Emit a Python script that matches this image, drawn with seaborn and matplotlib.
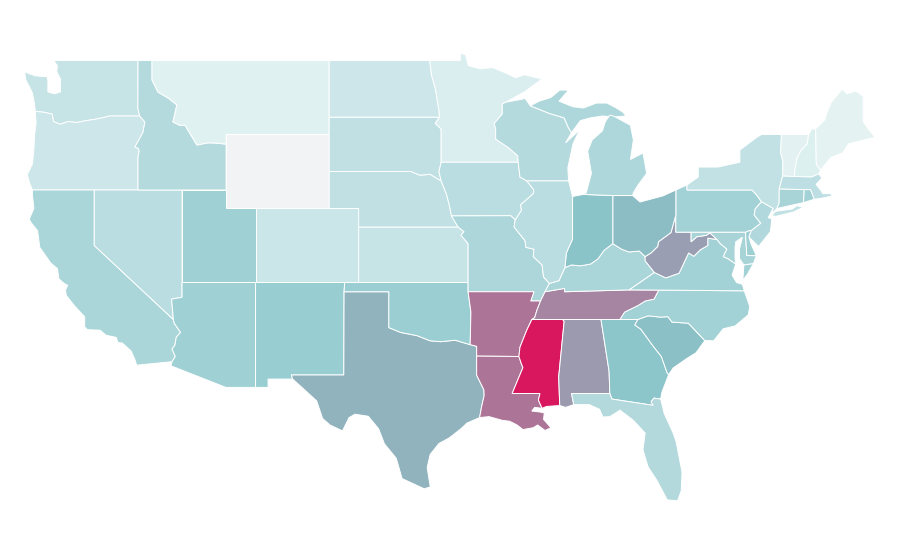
import seaborn as sns
import matplotlib.pyplot as plt

# outlines are (lon, lat), the map is plain lon/lat stretched to fit
WA = [(-124.73,48.38),(-124.0,48.17),(-123.2,48.12),(-123.15,47.9),(-123.15,47.3),(-122.7,47.2),(-122.3,47.3),(-122.3,48.0),(-122.55,48.4),(-122.5,48.7),(-122.74,49.0),(-117.03,49.0),(-117.04,46.42),(-116.92,46.0),(-118.98,46.0),(-119.3,45.93),(-119.9,45.83),(-120.6,45.74),(-121.2,45.65),(-121.8,45.7),(-122.3,45.55),(-122.77,45.7),(-122.85,46.1),(-123.4,46.2),(-124.0,46.25),(-124.07,46.7),(-124.2,47.24),(-124.35,47.5),(-124.65,47.95)]
OR = [(-124.2,42.0),(-124.4,42.4),(-124.55,42.84),(-124.2,43.4),(-124.1,44.2),(-124.05,45.0),(-123.95,45.6),(-124.0,46.25),(-123.4,46.2),(-122.85,46.1),(-122.77,45.7),(-122.3,45.55),(-121.8,45.7),(-121.2,45.65),(-120.6,45.74),(-119.9,45.83),(-119.3,45.93),(-118.98,46.0),(-116.92,46.0),(-116.56,45.68),(-116.7,45.1),(-117.24,44.32),(-117.0,44.25),(-116.95,44.1),(-117.03,43.78),(-117.03,42.0)]
CA = [(-124.2,42.0),(-120.0,42.0),(-120.0,39.0),(-114.63,35.0),(-114.57,34.8),(-114.14,34.3),(-114.43,34.05),(-114.53,33.6),(-114.72,33.4),(-114.5,33.0),(-114.72,32.72),(-117.12,32.53),(-117.25,32.85),(-117.5,33.3),(-118.1,33.73),(-118.4,33.75),(-118.5,34.03),(-119.2,34.15),(-119.6,34.42),(-120.47,34.45),(-120.65,34.6),(-120.65,35.15),(-121.3,35.7),(-121.9,36.3),(-121.95,36.6),(-121.8,36.85),(-122.05,36.95),(-122.4,37.2),(-122.5,37.75),(-122.95,38.05),(-123.7,38.9),(-123.85,39.8),(-124.35,40.3),(-124.4,40.45),(-124.1,41.0),(-124.2,41.75)]
NV = [(-120.0,42.0),(-114.04,42.0),(-114.04,36.2),(-114.75,36.1),(-114.63,35.0),(-120.0,39.0)]
ID = [(-117.03,49.0),(-116.08,49.0),(-116.08,47.95),(-115.68,47.3),(-114.95,46.95),(-114.39,46.6),(-114.66,45.68),(-114.2,45.5),(-113.84,45.5),(-113.03,44.43),(-112.3,44.55),(-111.8,44.54),(-111.05,44.48),(-111.05,42.0),(-117.03,42.0),(-117.03,43.78),(-116.95,44.1),(-117.0,44.25),(-117.24,44.32),(-116.7,45.1),(-116.56,45.68),(-116.92,46.0),(-117.04,46.42)]
MT = [(-116.08,49.0),(-104.05,49.0),(-104.05,45.0),(-111.05,45.0),(-111.05,44.48),(-111.8,44.54),(-112.3,44.55),(-113.03,44.43),(-113.84,45.5),(-114.2,45.5),(-114.66,45.68),(-114.39,46.6),(-114.95,46.95),(-115.68,47.3),(-116.08,47.95)]
WY = [(-111.05,45.0),(-104.05,45.0),(-104.05,41.0),(-111.05,41.0)]
UT = [(-114.04,42.0),(-111.05,42.0),(-111.05,41.0),(-109.05,41.0),(-109.05,37.0),(-114.04,37.0)]
CO = [(-109.05,41.0),(-102.05,41.0),(-102.05,37.0),(-109.05,37.0)]
AZ = [(-114.75,36.1),(-114.04,36.2),(-114.04,37.0),(-109.05,37.0),(-109.05,31.33),(-111.07,31.33),(-114.8,32.5),(-114.72,32.72),(-114.5,33.0),(-114.72,33.4),(-114.53,33.6),(-114.43,34.05),(-114.14,34.3),(-114.57,34.8),(-114.63,35.0)]
NM = [(-109.05,37.0),(-103.0,37.0),(-103.04,36.5),(-103.06,32.0),(-106.62,32.0),(-106.53,31.78),(-108.2,31.78),(-108.2,31.33),(-109.05,31.33)]
TX = [(-106.62,32.0),(-103.06,32.0),(-103.04,36.5),(-100.0,36.5),(-100.0,34.56),(-99.2,34.3),(-98.1,34.13),(-97.2,33.85),(-96.5,33.8),(-95.5,33.88),(-94.48,33.64),(-94.04,33.55),(-94.04,33.02),(-94.04,31.99),(-93.55,31.2),(-93.53,30.9),(-93.7,30.3),(-93.84,29.7),(-94.7,29.4),(-95.1,29.1),(-95.9,28.6),(-96.6,28.3),(-97.2,27.7),(-97.4,27.0),(-97.2,26.0),(-97.15,25.96),(-97.6,25.85),(-98.2,26.07),(-99.1,26.4),(-99.5,27.5),(-100.3,28.28),(-100.7,29.1),(-101.4,29.77),(-102.3,29.88),(-102.7,29.7),(-103.15,28.98),(-104.0,29.3),(-104.5,29.65),(-104.9,30.6),(-106.0,31.4),(-106.53,31.78)]
OK = [(-103.0,37.0),(-94.62,37.0),(-94.62,36.5),(-94.43,35.4),(-94.48,33.64),(-95.5,33.88),(-96.5,33.8),(-97.2,33.85),(-98.1,34.13),(-99.2,34.3),(-100.0,34.56),(-100.0,36.5),(-103.04,36.5)]
KS = [(-102.05,40.0),(-95.3,40.0),(-94.9,39.75),(-95.1,39.55),(-94.62,39.1),(-94.62,37.0),(-102.05,37.0)]
NE = [(-104.05,43.0),(-98.5,43.0),(-97.9,42.8),(-97.2,42.85),(-96.45,42.49),(-96.1,41.8),(-95.9,41.2),(-95.75,40.6),(-95.3,40.0),(-102.05,40.0),(-102.05,41.0),(-104.05,41.0)]
SD = [(-104.05,45.94),(-96.56,45.94),(-96.85,45.6),(-96.45,45.3),(-96.45,43.5),(-96.6,43.0),(-96.45,42.49),(-97.2,42.85),(-97.9,42.8),(-98.5,43.0),(-104.05,43.0)]
ND = [(-104.05,49.0),(-97.23,49.0),(-97.1,48.2),(-96.85,47.5),(-96.6,46.3),(-96.56,45.94),(-104.05,45.94)]
MN = [(-97.23,49.0),(-95.15,49.0),(-95.15,49.38),(-94.8,49.33),(-94.6,48.72),(-93.8,48.55),(-92.95,48.62),(-92.0,48.3),(-91.4,48.07),(-90.8,48.23),(-89.6,48.0),(-90.8,47.3),(-92.05,46.75),(-92.3,46.65),(-92.3,46.1),(-92.85,45.6),(-92.75,45.3),(-92.75,44.75),(-91.9,44.3),(-91.25,43.85),(-91.22,43.5),(-96.45,43.5),(-96.45,45.3),(-96.85,45.6),(-96.56,45.94),(-96.6,46.3),(-96.85,47.5),(-97.1,48.2)]
IA = [(-96.45,43.5),(-91.22,43.5),(-91.1,42.7),(-90.65,42.5),(-90.15,42.0),(-90.2,41.8),(-91.05,41.2),(-91.0,40.9),(-91.42,40.38),(-91.73,40.61),(-95.75,40.6),(-95.9,41.2),(-96.1,41.8),(-96.45,42.49),(-96.6,43.0)]
MO = [(-95.75,40.6),(-91.73,40.61),(-91.42,40.38),(-91.5,40.0),(-90.75,39.25),(-90.7,38.9),(-90.15,38.8),(-90.2,38.4),(-89.6,37.95),(-89.5,37.3),(-89.1,36.95),(-89.4,36.5),(-89.7,36.0),(-90.37,36.0),(-90.15,36.5),(-94.62,36.5),(-94.62,37.0),(-94.62,39.1),(-95.1,39.55),(-94.9,39.75),(-95.3,40.0)]
AR = [(-94.62,36.5),(-90.15,36.5),(-90.37,36.0),(-89.7,36.0),(-89.95,35.5),(-90.1,35.1),(-90.3,35.0),(-90.65,34.4),(-91.1,33.5),(-91.17,33.0),(-94.04,33.02),(-94.04,33.55),(-94.48,33.64),(-94.43,35.4)]
LA = [(-94.04,33.02),(-91.17,33.0),(-91.0,32.6),(-90.9,32.4),(-91.63,31.0),(-89.74,31.0),(-89.85,30.65),(-89.6,30.2),(-90.1,30.25),(-90.3,30.05),(-89.75,30.0),(-89.45,29.95),(-89.5,29.6),(-89.0,29.15),(-89.4,29.0),(-89.9,29.3),(-90.2,29.15),(-90.9,29.05),(-91.3,29.3),(-91.8,29.5),(-92.3,29.55),(-93.2,29.75),(-93.84,29.7),(-93.7,30.3),(-93.53,30.9),(-93.55,31.2),(-94.04,31.99)]
MS = [(-90.29,35.0),(-88.2,35.0),(-88.1,34.9),(-88.47,31.9),(-88.4,30.35),(-89.3,30.3),(-89.6,30.2),(-89.85,30.65),(-89.74,31.0),(-91.63,31.0),(-90.9,32.4),(-91.0,32.6),(-91.17,33.0),(-91.1,33.5),(-90.65,34.4)]
AL = [(-88.2,35.0),(-85.6,35.0),(-85.18,32.87),(-85.05,32.2),(-85.0,31.0),(-87.6,31.0),(-87.45,30.4),(-88.0,30.25),(-88.4,30.35),(-88.47,31.9),(-88.1,34.9)]
GA = [(-85.6,35.0),(-83.1,35.0),(-83.3,34.7),(-82.9,34.48),(-82.0,33.5),(-81.5,33.0),(-81.1,32.1),(-81.0,32.03),(-81.46,31.08),(-81.55,30.7),(-82.0,30.75),(-82.2,30.55),(-82.05,30.36),(-84.86,30.7),(-85.0,31.0),(-85.05,32.2),(-85.18,32.87)]
FL = [(-87.6,31.0),(-85.0,31.0),(-84.86,30.7),(-82.05,30.36),(-82.2,30.55),(-82.0,30.75),(-81.55,30.7),(-81.3,29.9),(-80.7,28.86),(-80.5,28.4),(-80.1,26.76),(-80.15,25.75),(-80.4,25.2),(-81.1,25.25),(-81.8,26.3),(-82.4,27.03),(-82.75,27.95),(-82.6,28.86),(-83.43,29.57),(-84.31,30.1),(-85.0,29.75),(-85.47,29.73),(-85.7,30.15),(-86.4,30.4),(-87.45,30.4)]
SC = [(-83.3,34.7),(-83.1,35.0),(-82.4,35.2),(-81.6,35.13),(-81.05,35.15),(-80.78,34.86),(-79.67,34.8),(-78.55,33.86),(-79.15,33.2),(-79.76,32.9),(-80.7,32.38),(-81.0,32.03),(-81.1,32.1),(-81.5,33.0),(-82.0,33.5),(-82.9,34.48)]
NC = [(-84.32,35.0),(-83.1,35.0),(-82.4,35.2),(-81.6,35.13),(-81.05,35.15),(-80.78,34.86),(-79.67,34.8),(-78.55,33.86),(-77.95,33.85),(-77.3,34.5),(-76.5,34.65),(-75.6,35.25),(-75.5,35.7),(-75.87,36.55),(-81.68,36.59),(-82.0,36.1),(-82.6,36.0),(-83.1,35.75),(-84.0,35.4)]
TN = [(-90.29,35.0),(-84.32,35.0),(-84.0,35.4),(-83.1,35.75),(-82.6,36.0),(-82.0,36.1),(-81.68,36.59),(-83.68,36.6),(-88.07,36.5),(-88.07,36.68),(-89.4,36.5),(-89.7,36.0),(-89.95,35.5),(-90.1,35.1)]
KY = [(-89.4,36.5),(-88.07,36.68),(-88.07,36.5),(-83.68,36.6),(-81.97,37.54),(-82.6,38.17),(-82.6,38.4),(-83.0,38.7),(-83.7,38.65),(-84.2,38.8),(-84.8,39.1),(-85.4,38.73),(-85.8,38.28),(-86.3,38.0),(-87.0,37.9),(-87.6,37.95),(-88.05,37.8),(-88.45,37.1),(-89.1,36.95)]
VA = [(-83.68,36.6),(-81.68,36.59),(-75.87,36.55),(-76.0,36.9),(-76.4,37.0),(-76.7,37.4),(-76.45,38.0),(-77.0,38.3),(-77.3,38.4),(-77.05,38.8),(-77.5,39.1),(-77.72,39.32),(-78.35,39.4),(-78.35,39.0),(-78.85,38.77),(-79.3,38.42),(-79.65,38.6),(-80.3,37.5),(-81.2,37.25),(-81.97,37.54)]
VA_SHORE = [(-75.97,37.12),(-75.9,37.95),(-75.25,38.03),(-75.65,37.45)]
WV = [(-81.97,37.54),(-81.2,37.25),(-80.3,37.5),(-79.65,38.6),(-79.3,38.42),(-78.85,38.77),(-78.35,39.0),(-78.35,39.4),(-77.72,39.32),(-78.2,39.68),(-78.45,39.55),(-79.1,39.47),(-79.48,39.2),(-79.48,39.72),(-80.52,39.72),(-80.52,40.64),(-80.85,39.7),(-81.7,39.2),(-81.75,38.95),(-82.2,38.6),(-82.6,38.4),(-82.6,38.17)]
MD = [(-79.48,39.72),(-75.79,39.72),(-75.7,38.46),(-75.05,38.45),(-75.25,38.03),(-75.9,37.95),(-76.2,38.3),(-76.2,38.8),(-76.0,39.45),(-76.45,39.2),(-76.5,38.9),(-76.5,38.3),(-76.45,38.0),(-77.0,38.3),(-77.3,38.4),(-77.05,38.8),(-77.5,39.1),(-77.72,39.32),(-78.2,39.68),(-78.45,39.55),(-79.1,39.47),(-79.48,39.2)]
DE = [(-75.79,39.72),(-75.5,39.82),(-75.4,39.8),(-75.55,39.45),(-75.4,39.05),(-75.05,38.45),(-75.7,38.46)]
PA = [(-80.52,42.0),(-79.76,42.27),(-79.76,42.0),(-75.35,42.0),(-75.05,41.75),(-74.7,41.36),(-75.13,40.98),(-75.2,40.65),(-74.75,40.2),(-75.4,39.8),(-75.5,39.82),(-75.79,39.72),(-80.52,39.72)]
NY = [(-79.76,42.27),(-79.0,42.7),(-79.0,43.24),(-77.66,43.24),(-76.17,43.5),(-76.17,44.16),(-75.0,44.86),(-74.7,45.0),(-73.35,45.0),(-73.4,44.0),(-73.25,43.55),(-73.27,42.75),(-73.5,42.05),(-73.5,41.3),(-73.65,41.0),(-73.9,40.8),(-74.0,40.7),(-73.92,41.0),(-74.7,41.36),(-75.05,41.75),(-75.35,42.0),(-79.76,42.0)]
LONG_ISLAND = [(-74.03,40.6),(-73.75,40.85),(-72.6,40.97),(-72.3,41.15),(-71.87,41.07),(-72.5,40.82),(-73.7,40.58)]
VT = [(-73.35,45.0),(-71.5,45.0),(-71.6,44.5),(-72.05,44.1),(-72.3,43.7),(-72.45,43.0),(-72.46,42.73),(-73.27,42.75),(-73.25,43.55),(-73.4,44.0)]
NH = [(-71.5,45.0),(-71.3,45.3),(-71.03,45.3),(-70.98,43.4),(-70.7,43.07),(-70.82,42.87),(-71.3,42.7),(-72.46,42.73),(-72.45,43.0),(-72.3,43.7),(-72.05,44.1),(-71.6,44.5)]
ME = [(-71.03,45.3),(-70.4,45.8),(-70.25,46.2),(-70.0,46.7),(-69.22,47.46),(-68.9,47.2),(-68.3,47.35),(-67.8,47.07),(-67.8,45.7),(-67.45,45.3),(-67.0,44.85),(-68.0,44.65),(-68.8,44.5),(-69.2,44.0),(-70.0,43.75),(-70.7,43.07),(-70.98,43.4)]
MA = [(-73.5,42.05),(-73.27,42.75),(-72.46,42.73),(-71.3,42.7),(-70.82,42.87),(-70.6,42.65),(-71.0,42.3),(-70.65,41.95),(-70.55,41.8),(-70.0,41.8),(-70.0,42.05),(-69.95,41.67),(-70.65,41.55),(-71.12,41.5),(-71.38,42.02),(-71.8,42.02)]
CT = [(-73.5,42.05),(-71.8,42.02),(-71.85,41.32),(-73.65,41.0),(-73.5,41.3)]
RI = [(-71.8,42.02),(-71.38,42.02),(-71.12,41.5),(-71.85,41.32)]
NJ = [(-74.7,41.36),(-73.92,41.0),(-74.25,40.5),(-74.0,40.45),(-74.1,39.75),(-74.9,38.95),(-75.55,39.45),(-75.4,39.8),(-74.75,40.2),(-75.2,40.65),(-75.13,40.98)]
OH = [(-84.8,41.7),(-83.45,41.7),(-82.95,41.35),(-81.4,41.68),(-80.52,42.0),(-80.52,40.64),(-80.85,39.7),(-81.7,39.2),(-81.75,38.95),(-82.2,38.6),(-82.6,38.4),(-83.0,38.7),(-83.7,38.65),(-84.2,38.8),(-84.8,39.1)]
IN = [(-87.53,41.65),(-86.8,41.76),(-84.8,41.7),(-84.8,39.1),(-85.4,38.73),(-85.8,38.28),(-86.3,38.0),(-87.0,37.9),(-87.6,37.95),(-88.05,37.8),(-87.95,38.6),(-87.53,39.35)]
IL = [(-90.65,42.5),(-87.8,42.5),(-87.53,41.65),(-87.53,39.35),(-87.95,38.6),(-88.05,37.8),(-88.45,37.1),(-89.1,36.95),(-89.5,37.3),(-89.6,37.95),(-90.2,38.4),(-90.15,38.8),(-90.7,38.9),(-90.75,39.25),(-91.5,40.0),(-91.42,40.38),(-91.0,40.9),(-91.05,41.2),(-90.2,41.8),(-90.15,42.0)]
WI = [(-92.05,46.75),(-91.2,46.87),(-90.75,46.95),(-90.4,46.55),(-89.1,46.14),(-88.1,45.9),(-87.8,45.35),(-87.6,45.1),(-88.0,44.55),(-87.05,45.25),(-87.5,44.5),(-87.85,43.2),(-87.8,42.5),(-90.65,42.5),(-91.1,42.7),(-91.22,43.5),(-91.25,43.85),(-91.9,44.3),(-92.75,44.75),(-92.75,45.3),(-92.85,45.6),(-92.3,46.1),(-92.3,46.65)]
MI_UPPER = [(-90.4,46.55),(-89.8,46.8),(-89.0,47.0),(-88.4,47.4),(-87.8,47.4),(-88.45,46.8),(-87.5,46.5),(-86.8,46.43),(-85.9,46.7),(-85.2,46.7),(-84.6,46.45),(-84.1,46.2),(-83.9,46.0),(-84.7,45.95),(-85.5,46.0),(-86.3,45.9),(-87.0,45.75),(-87.6,45.1),(-87.8,45.35),(-88.1,45.9),(-89.1,46.14)]
MI_LOWER = [(-86.8,41.76),(-84.8,41.7),(-83.45,41.7),(-83.4,41.85),(-83.1,42.25),(-82.5,42.9),(-82.75,44.0),(-83.6,43.65),(-83.4,44.7),(-83.6,45.5),(-84.75,46.0),(-85.0,46.05),(-85.3,45.7),(-85.5,45.2),(-86.2,44.7),(-86.5,44.1),(-86.25,42.9),(-86.6,41.85)]

states = ['WA','OR','CA','NV','ID','MT','WY','UT','CO','AZ','NM','TX','OK','KS','NE','SD','ND','MN','IA','MO','AR','LA','MS','AL','GA','FL','SC','NC','TN','KY','VA','WV','MD','DE','PA','NY','VT','NH','ME','MA','CT','RI','NJ','OH','IN','IL','WI','MI']
rates = [25,22,40,32,34,12.5,0,46,23,46,50,67.5,49,25,28,28,22,15,32,39,87,87,100,75,60,35,63.5,44,82,40,44,74,41,47,44,27,10,14,9,30,41,44,36,64.5,62,32,34,37.5]
outlines = [[WA],[OR],[CA],[NV],[ID],[MT],[WY],[UT],[CO],[AZ],[NM],[TX],[OK],[KS],[NE],[SD],[ND],[MN],[IA],[MO],[AR],[LA],[MS],[AL],[GA],[FL],[SC],[NC],[TN],[KY],[VA,VA_SHORE],[WV],[MD],[DE],[PA],[NY,LONG_ISLAND],[VT],[NH],[ME],[MA],[CT],[RI],[NJ],[OH],[IN],[IL],[WI],[MI_UPPER,MI_LOWER]]

sns.set_theme(style='white')
scale = sns.blend_palette(['#f2f3f5','#e0f1f1','#c6e3e6','#aed7db','#98cdd1','#89c3c8','#9b9bb0','#ad7396','#d9175f'], n_colors=201)

fig = plt.figure(figsize=(9, 5.6), dpi=100)
ax = fig.add_axes([0, 0, 1, 1])
for state, rate, parts in zip(states, rates, outlines):
    color = scale[int(round(rate * 2))]
    for part in parts:
        lons = [p[0] for p in part]
        lats = [p[1] for p in part]
        ax.fill(lons, lats, facecolor=color, edgecolor='white', linewidth=0.7, label=state)

ax.set_xlim(-126.40, -65.30)
ax.set_ylim(22.0, 52.27)
ax.axis('off')
fig.savefig('out.png', dpi=100, facecolor='white')
